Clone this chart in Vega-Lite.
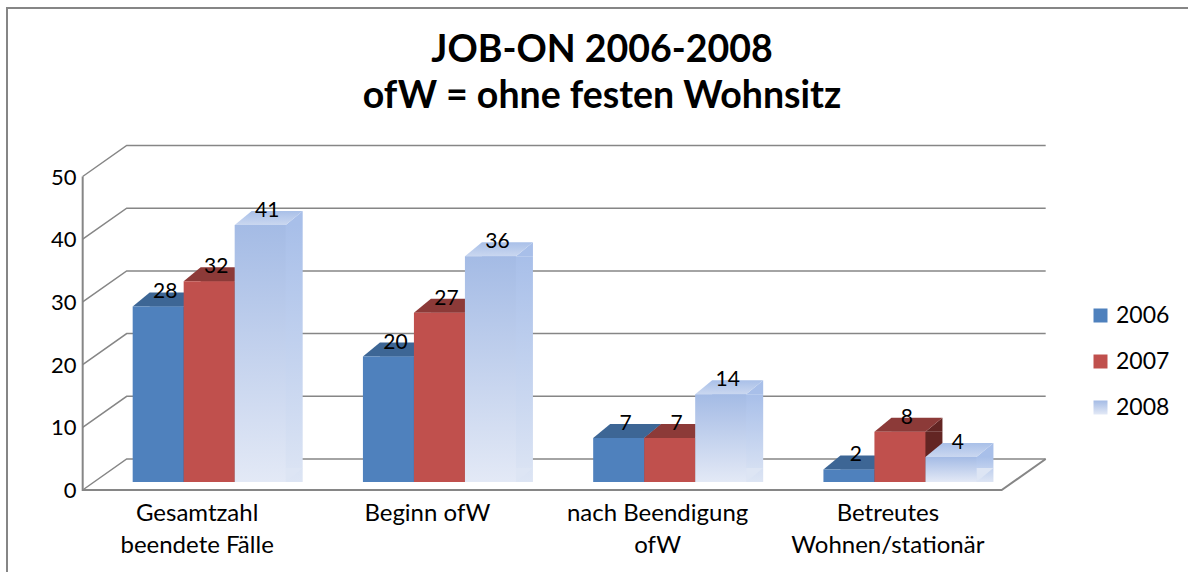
{
"$schema":"https://vega.github.io/schema/vega-lite/v6.json",
"width":1190,"height":572,
"autosize":{"type":"none"},
"padding":{"left":7,"top":8,"right":-9,"bottom":-8},
"background":"white",
"view":{"stroke":"#868686","strokeWidth":2,"fill":"white"},
"config":{"font":"Lato"},
"title":{"text":["JOB-ON 2006-2008","ofW = ohne festen Wohnsitz"],"font":"Lato","fontSize":37.5,"fontWeight":"bold","color":"#000000","anchor":"middle","lineHeight":46,"offset":-107},
"datasets":{"bars":[
{"cat":"Gesamtzahl beendete Fälle","year":"2006","value":28},
{"cat":"Gesamtzahl beendete Fälle","year":"2007","value":32},
{"cat":"Gesamtzahl beendete Fälle","year":"2008","value":41},
{"cat":"Beginn ofW","year":"2006","value":20},
{"cat":"Beginn ofW","year":"2007","value":27},
{"cat":"Beginn ofW","year":"2008","value":36},
{"cat":"nach Beendigung ofW","year":"2006","value":7},
{"cat":"nach Beendigung ofW","year":"2007","value":7},
{"cat":"nach Beendigung ofW","year":"2008","value":14},
{"cat":"Betreutes Wohnen/stationär","year":"2006","value":2},
{"cat":"Betreutes Wohnen/stationär","year":"2007","value":8},
{"cat":"Betreutes Wohnen/stationär","year":"2008","value":4}
],"ticks":[{"t":0},{"t":10},{"t":20},{"t":30},{"t":40},{"t":50}]},
"layer":[
{"data":{"name":"ticks"},
 "mark":{"type":"point","filled":false,"shape":"M-50,8L-6,-23L913,-23","size":4,"stroke":"#868686","strokeWidth":1.5,"opacity":1},
 "encoding":{
  "x":{"datum":"Gesamtzahl beendete Fälle","type":"nominal","bandPosition":0,"scale":{"domain":["Gesamtzahl beendete Fälle","Beginn ofW","nach Beendigung ofW","Betreutes Wohnen/stationär"],"range":[87,1008],"paddingInner":0.336,"paddingOuter":0.168},"axis":{"title":null,"domain":false,"ticks":false,"labelFont":"Lato","labelFontSize":24,"labelColor":"#000000","labelAngle":0,"labelOffset":-12,"labelLineHeight":32,"labelLimit":0,"offset":-79,"labelPadding":0,"labelBaseline":"top","labelExpr":"{'Gesamtzahl beendete Fälle':['Gesamtzahl','beendete Fälle'],'Beginn ofW':['Beginn ofW'],'nach Beendigung ofW':['nach Beendigung','ofW'],'Betreutes Wohnen/stationär':['Betreutes','Wohnen/stationär']}[datum.label]"}},
  "y":{"field":"t","type":"quantitative","scale":{"domain":[0,50],"range":[474,160.5],"nice":false},"axis":{"title":null,"values":[0,10,20,30,40,50],"domain":false,"ticks":false,"grid":false,"labelFont":"Lato","labelFontSize":22,"labelColor":"#000000","labelOffset":8.5,"labelPadding":6,"offset":-75}}
 }},
{"data":{"values":[{"t":0}]},
 "mark":{"type":"point","filled":false,"shape":"M-50,-305.5L-50,8L869,8L913,-23","size":4,"stroke":"#868686","strokeWidth":2,"opacity":1},
 "encoding":{
  "x":{"datum":"Gesamtzahl beendete Fälle","type":"nominal","bandPosition":0},
  "y":{"field":"t","type":"quantitative"}
 }},
{"data":{"name":"bars"},
 "encoding":{
  "x":{"field":"cat","type":"nominal"},
  "xOffset":{"field":"year","type":"nominal","scale":{"type":"point","domain":["2006","2007","2008"],"range":[25.5,127.5],"padding":0}},
  "y":{"field":"value","type":"quantitative","stack":null}
 },
 "resolve":{"scale":{"color":"independent","xOffset":"independent"}},
 "layer":[
  {"mark":{"type":"bar","y2Offset":-14},
   "encoding":{
    "xOffset":{"field":"year","type":"nominal","scale":{"type":"band","domain":["2006","2007","2008"],"range":[17,170],"paddingInner":0,"paddingOuter":0}},
    "color":{"field":"year","legend":null,"scale":{"domain":["2006","2007","2008"],"range":["#355A85","#632523",{"expr":"{gradient:'linear',x1:0,y1:0,x2:0,y2:1,stops:[{offset:0,color:'#A8BFE9'},{offset:1,color:'#DDE5F4'}]}"}]}}}},
  {"mark":{"type":"point","filled":true,"opacity":1,"size":4,"shape":"M25.5,0L42.5,-14L42.5,0Z"},
   "encoding":{"color":{"field":"year","legend":null,"scale":{"domain":["2006","2007","2008"],"range":["#355A85","#632523","#A8BFE9"]}}}},
  {"mark":{"type":"point","filled":true,"opacity":1,"size":4,"shape":"M25.5,0L25.5,-14L42.5,-14Z"},
   "encoding":{"y":{"datum":0,"type":"quantitative"},"color":{"field":"year","legend":null,"scale":{"domain":["2006","2007","2008"],"range":["#355A85","#632523","#DDE5F4"]}}}},
  {"mark":{"type":"point","filled":true,"opacity":1,"size":4,"shape":"M-25.5,0L25.5,0L42.5,-14L-8.5,-14Z"},
   "encoding":{"color":{"field":"year","legend":null,"scale":{"domain":["2006","2007","2008"],"range":["#3D6695","#8C3A38",{"expr":"{gradient:'linear',x1:0,y1:0,x2:0,y2:1,stops:[{offset:0,color:'#A9C0E8'},{offset:1,color:'#CAD7F0'}]}"}]}}}},
  {"mark":{"type":"bar"},
   "encoding":{
    "xOffset":{"field":"year","type":"nominal","scale":{"type":"band","domain":["2006","2007","2008"],"range":[0,153],"paddingInner":0,"paddingOuter":0}},
    "color":{"field":"year","title":null,"scale":{"domain":["2006","2007","2008"],"range":["#4F81BD","#C0504D",{"expr":"{gradient:'linear',x1:0,y1:0,x2:0,y2:1,stops:[{offset:0,color:'#A4BBE5'},{offset:1,color:'#E3E9F6'}]}"}]},
    "legend":{"orient":"none","legendX":1082,"legendY":296,"symbolType":"square","symbolSize":196,"symbolStrokeWidth":0,"labelFont":"Lato","labelFontSize":23,"labelColor":"#000000","rowPadding":22,"labelOffset":4}}}},
  {"mark":{"type":"text","fontSize":21,"font":"Lato","color":"#000000","dx":7,"dy":-14,"baseline":"middle"},
   "encoding":{"text":{"field":"value","type":"quantitative"}}}
 ]}
]
}
